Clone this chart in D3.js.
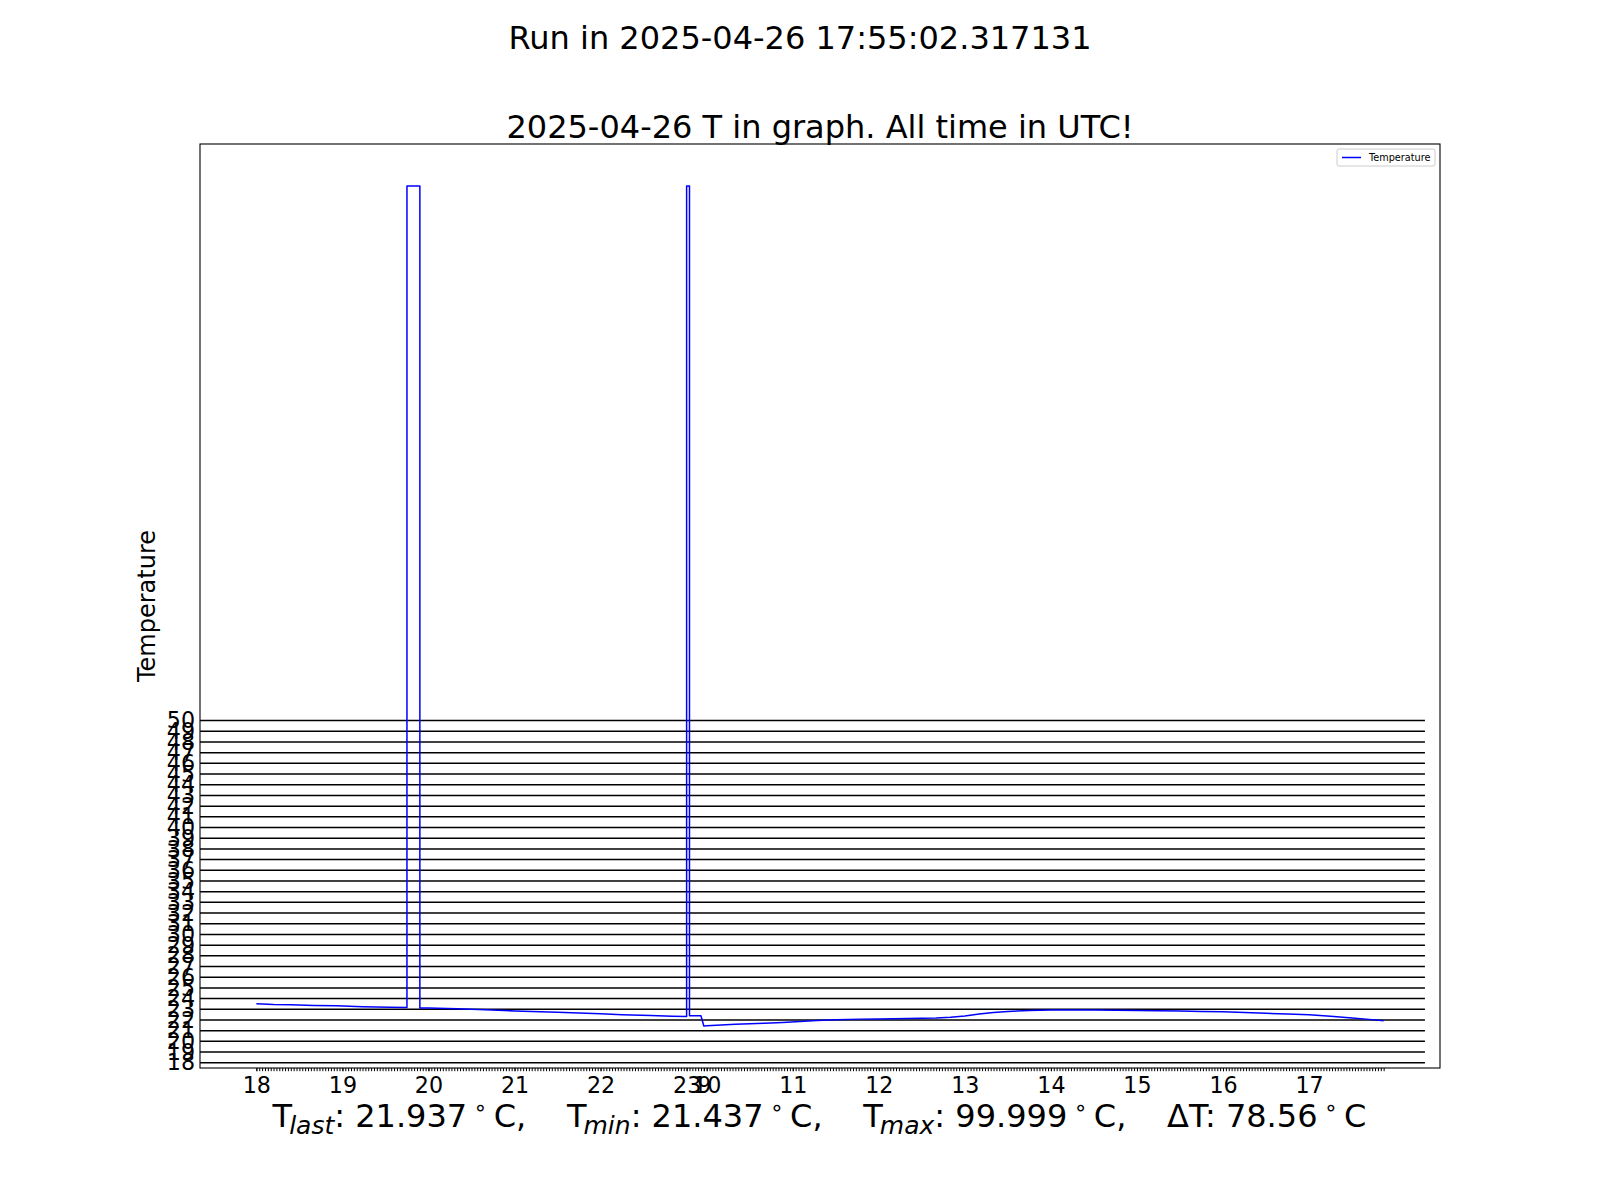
<!DOCTYPE html>
<html><head><meta charset="utf-8">
<script src="https://cdn.jsdelivr.net/npm/d3@7"></script>
<style>
body{margin:0;background:#fff}
svg{display:block}
text{font-family:"DejaVu Sans",sans-serif;fill:#000}
</style>
</head><body>
<script>
// ---------------- data ----------------
const runStamp = "Run in 2025-04-26 17:55:02.317131";
const chartTitle = "2025-04-26 T in graph. All time in UTC!";
const yAxisLabel = "Temperature";
const seriesName = "Temperature";

// segment 1: evening of 2025-04-25 (UTC)
const eveningTimes = ["18:00","18:12","18:24","18:40","18:56","19:14","19:33","19:45","19:45","19:54","19:54","20:00","20:20","20:40","21:00","21:30","22:00","22:15","22:35","22:50","23:00","23:00","23:02","23:02","23:10"];
const eveningTemps = [23.52,23.45,23.42,23.36,23.33,23.24,23.20,23.17,99.999,99.999,23.12,23.12,23.06,22.96,22.85,22.72,22.58,22.50,22.42,22.36,22.33,99.999,99.999,22.39,22.39];

// segment 2: 2025-04-26 after the logging gap
const dayTimes = ["09:58","10:00","10:10","10:20","10:30","10:40","10:53","11:05","11:17","11:30","11:47","12:00","12:20","12:40","12:50","13:00","13:10","13:20","13:30","13:45","14:00","14:15","14:30","14:45","15:00","15:15","15:30","15:45","16:00","16:15","16:30","16:45","17:00","17:15","17:30","17:40","17:52"];
const dayTemps = [21.437,21.45,21.52,21.60,21.64,21.70,21.77,21.86,21.96,22.03,22.08,22.10,22.13,22.18,22.25,22.38,22.56,22.70,22.80,22.89,22.93,22.94,22.93,22.91,22.88,22.86,22.83,22.80,22.76,22.70,22.63,22.56,22.48,22.36,22.18,22.08,21.937];

// x ticks: first sample of every hour
const eveningTickTimes = ["18:00","19:00","20:00","21:00","22:00","23:00"];
const dayTickTimes = ["09:58","10:00","11:00","12:00","13:00","14:00","15:00","16:00","17:00"];
const xTickLabelsEvening = ["18","19","20","21","22","23"];
const xTickLabelsDay = ["9","10","11","12","13","14","15","16","17"];

const yTickValues = [18,19,20,21,22,23,24,25,26,27,28,29,30,31,32,33,34,35,36,37,38,39,40,41,42,43,44,45,46,47,48,49,50];
const gridLevels = yTickValues;
const gridLineSpan = [-1, 13.58];   // horizontal reference lines (sample-axis units, clipped to axes)
const sampleStepMinutes = 2;

const tLast = 21.937, tMin = 21.437, tMax = 99.999, tDelta = 78.56;

// ---------------- helpers ----------------
const hrs = s => { const [h,m] = s.split(":").map(Number); return h + m/60; };
const eveningStart = hrs(eveningTimes[0]);
const posEvening = s => hrs(s) - eveningStart;
const eveningEndPos = posEvening(eveningTimes[eveningTimes.length-1]);
const dayOffset = eveningEndPos + sampleStepMinutes/60 - hrs(dayTimes[0]);
const posDay = s => hrs(s) + dayOffset;

const points = eveningTimes.map((t,i)=>({x:posEvening(t), y:eveningTemps[i]}))
  .concat(dayTimes.map((t,i)=>({x:posDay(t), y:dayTemps[i]})));

const xTicks = eveningTickTimes.map((t,i)=>({x:posEvening(t), label:xTickLabelsEvening[i]}))
  .concat(dayTickTimes.map((t,i)=>({x:posDay(t), label:xTickLabelsDay[i]})));

// ---------------- layout ----------------
const W = 1600, H = 1200;
const L = 200, R = 1440, T = 144, B = 1068;

const svg = d3.select("body").append("svg").attr("width",W).attr("height",H);
svg.append("defs").append("clipPath").attr("id","axclip")
  .append("rect").attr("x",L).attr("y",T).attr("width",R-L).attr("height",B-T);

const xExt = d3.extent(points, d=>d.x);
const yExt = d3.extent(points, d=>d.y);
const xPad = (xExt[1]-xExt[0])*0.05, yPad = (yExt[1]-yExt[0])*0.05;
const x = d3.scaleLinear().domain([xExt[0]-xPad, xExt[1]+xPad]).range([L,R]);
const y = d3.scaleLinear().domain([yExt[0]-yPad, yExt[1]+yPad]).range([B,T]);

// titles
svg.append("text").attr("x",800).attr("y",49).attr("text-anchor","middle")
  .style("font-size","32px").text(runStamp);
svg.append("text").attr("x",(L+R)/2).attr("y",137.5).attr("text-anchor","middle")
  .style("font-size","32px").text(chartTitle);

// horizontal reference lines
svg.append("g").attr("clip-path","url(#axclip)").selectAll("line").data(gridLevels).join("line")
  .attr("x1",x(gridLineSpan[0])).attr("x2",x(gridLineSpan[1]))
  .attr("y1",d=>y(d)).attr("y2",d=>y(d))
  .attr("stroke","#000").attr("stroke-width",1.5);

// series line
svg.append("path").datum(points).attr("clip-path","url(#axclip)")
  .attr("d", d3.line().x(d=>x(d.x)).y(d=>y(d.y)))
  .attr("fill","none").attr("stroke","#0000ff").attr("stroke-width",1.5)
  .attr("stroke-linejoin","round");

// frame
svg.append("rect").attr("x",L).attr("y",T).attr("width",R-L).attr("height",B-T)
  .attr("fill","none").attr("stroke","#000").attr("stroke-width",1.1);

// minor x ticks (every sample)
const minorTicks = d3.range(0, xExt[1]+1e-6, sampleStepMinutes/60);
const gMinor = svg.append("g").attr("transform",`translate(0,${B})`)
  .call(d3.axisBottom(x).tickValues(minorTicks).tickSize(3.2).tickFormat(""));
gMinor.select(".domain").remove();
gMinor.selectAll("line").attr("stroke","#000").attr("stroke-width",1);

// major x ticks
const gx = svg.append("g").attr("transform",`translate(0,${B})`)
  .call(d3.axisBottom(x).tickValues(xTicks.map(d=>d.x))
    .tickFormat((d,i)=>xTicks[i].label).tickSize(3.2).tickPadding(5.6));
gx.select(".domain").remove();
gx.selectAll("line").attr("stroke","#000").attr("stroke-width",1);
gx.selectAll("text").style("font-size","22.2px").style("font-family","DejaVu Sans").attr("fill","#000");

// y ticks
const gy = svg.append("g").attr("transform",`translate(${L},0)`)
  .call(d3.axisLeft(y).tickValues(yTickValues).tickSize(0).tickPadding(5));
gy.select(".domain").remove();
gy.selectAll("text").style("font-size","22.2px").style("font-family","DejaVu Sans").attr("fill","#000");

// y label
svg.append("text").attr("transform",`translate(155,${(T+B)/2}) rotate(-90)`)
  .attr("text-anchor","middle").style("font-size","24px").text(yAxisLabel);

// x label with statistics
const statItems = [
  {sym:"T", sub:"last", val:tLast.toFixed(3)},
  {sym:"T", sub:"min", val:tMin.toFixed(3)},
  {sym:"T", sub:"max", val:tMax.toFixed(3)},
  {sym:"\u0394T", sub:null, val:String(tDelta)}
];
const xl = svg.append("text").attr("x",0).attr("y",1127)
  .style("font-size","32px").style("white-space","pre");
statItems.forEach((it,i)=>{
  xl.append("tspan").text((i>0?",    ":"") + it.sym);
  if (it.sub) {
    xl.append("tspan").attr("dx",-3).attr("dy",7).style("font-size","25px").style("font-style","italic").text(it.sub);
    xl.append("tspan").attr("dy",-7).text(": " + it.val + "\u2009");
  } else {
    xl.append("tspan").text(": " + it.val + "\u2009");
  }
  xl.append("tspan").attr("dy",-12.5).style("font-size","22px").text("\u2218");
  xl.append("tspan").attr("dy",12.5).text("\u2009C");
});
const bb = xl.node().getBBox();
xl.attr("x", (L+R)/2 - bb.width/2);

// legend
const lg = svg.append("g");
lg.append("rect").attr("x",1337).attr("y",149).attr("width",98).attr("height",17).attr("rx",2)
  .attr("fill","#fff").attr("fill-opacity",0.8).attr("stroke","#cccccc").attr("stroke-width",1);
lg.append("line").attr("x1",1342).attr("x2",1361).attr("y1",157.5).attr("y2",157.5)
  .attr("stroke","#0000ff").attr("stroke-width",1.5);
lg.append("text").attr("x",1369).attr("y",161).style("font-size","9.7px").text(seriesName);
</script>
</body></html>
